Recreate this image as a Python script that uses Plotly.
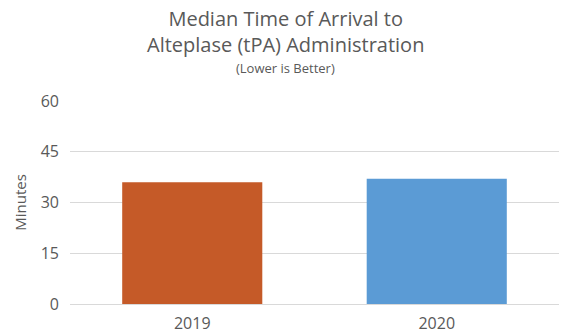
import plotly.graph_objects as go

years = ["2019", "2020"]
minutes = [36, 37]
bar_colors = ["#C55A28", "#5B9BD5"]
y_ticks = [0, 15, 30, 45, 60]

W, H = 570, 334
ML, MR, MT, MB = 70, 11, 101, 30
# horizontal centre of the whole page, in plot-area paper units
page_mid = (W / 2 - ML) / (W - ML - MR)

fig = go.Figure(
    go.Bar(
        x=years,
        y=minutes,
        marker=dict(color=bar_colors, line=dict(width=0)),
        width=0.573,
    )
)

fig.update_layout(
    width=W,
    height=H,
    margin=dict(l=ML, r=MR, t=MT, b=MB),
    plot_bgcolor="white",
    paper_bgcolor="white",
    font=dict(family="Open Sans", color="#595959"),
    showlegend=False,
    bargap=0.427,
)

fig.update_xaxes(
    automargin=False,
    showgrid=False,
    showline=False,
    ticks="",
    ticklabelstandoff=8,
    tickfont=dict(size=16, color="#595959"),
)
fig.update_yaxes(
    automargin=False,
    range=[0, 60],
    tickvals=y_ticks,
    showgrid=True,
    gridcolor="#D9D9D9",
    gridwidth=1,
    zeroline=True,
    zerolinecolor="#D9D9D9",
    zerolinewidth=1,
    showline=False,
    ticks="",
    ticklen=0,
    ticklabelstandoff=10,
    tickfont=dict(size=16, color="#595959"),
    title=dict(text="Minutes", font=dict(size=15, color="#595959"), standoff=10),
)

fig.add_annotation(
    text="Median Time of Arrival to<br>Alteplase (tPA) Administration",
    xref="paper", yref="paper", x=page_mid, y=1, yanchor="bottom",
    yshift=41,
    showarrow=False,
    font=dict(size=20, color="#595959"),
)
fig.add_annotation(
    text="(Lower is Better)",
    xref="paper", yref="paper", x=page_mid, y=1, yanchor="bottom",
    yshift=22,
    showarrow=False,
    font=dict(size=13, color="#595959"),
)

fig.write_html("out.html")
